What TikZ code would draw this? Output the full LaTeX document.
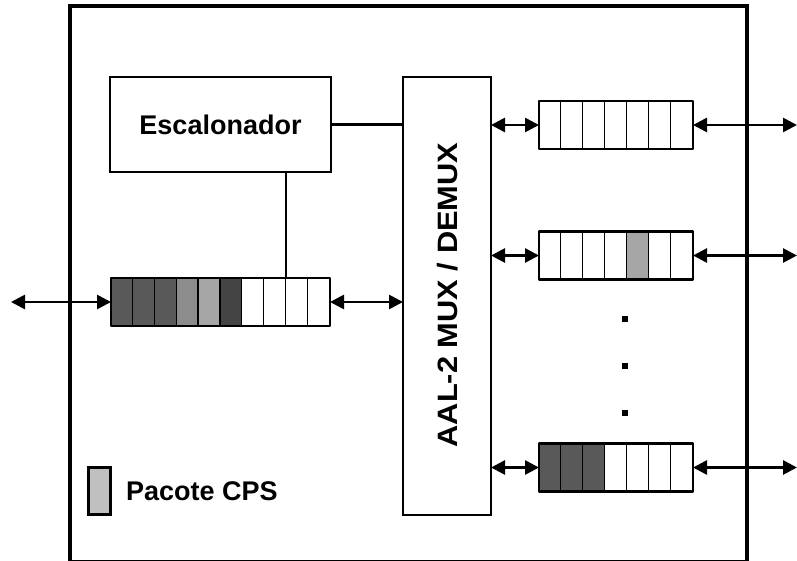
\documentclass[tikz,border=0pt]{standalone}
\usepackage{fontspec}
\setmainfont{Liberation Sans}
\usetikzlibrary{arrows.meta,calc}

\definecolor{celldark}{HTML}{595959}
\definecolor{cellmid}{HTML}{8C8C8C}
\definecolor{celllight}{HTML}{A6A6A6}
\definecolor{celldeep}{HTML}{444444}
\definecolor{legendgray}{HTML}{C0C0C0}

\tikzset{
  block/.style={draw, line width=2.7pt, rectangle, inner sep=0pt, outer sep=0pt},
  queue/.style={rectangle, inner sep=0pt, outer sep=0pt, minimum height=48, minimum width=#1},
  lbl/.style={font=\fontsize{27}{32}\selectfont\bfseries},
  link/.style={line width=2.7pt, {Triangle[length=14pt,width=14pt]}-{Triangle[length=14pt,width=14pt]}},
  wire/.style={line width=2.5pt},
  dot/.style={fill=black, inner sep=0pt, minimum size=6pt},
}

% Fills the cells of a queue node with the given colours, then draws
% the dividers and the outline.  #1 node, #2 cell count, #3 colours
\newcommand\queuecells[3]{%
  \foreach \c [count=\i] in {#3} {
    \path ($(#1.north west)!{(\i-1)/#2}!(#1.north east)$) coordinate (ca)
          ($(#1.south west)!{\i/#2}!(#1.south east)$) coordinate (cb);
    \fill[\c] (ca) rectangle (cb);
    \ifnum\i<#2 \draw[line width=2.4pt] (cb) -- (cb |- ca); \fi
  }
  \draw[line width=2.9pt, line join=round] (#1.north west) rectangle (#1.south east);
}

\begin{document}
\begin{tikzpicture}[x=1pt, y=-1pt]
  \useasboundingbox (0,0) rectangle (797,561);

  % enclosing frame
  \draw[line width=4pt] (70,6.5) rectangle (747,562);

  % scheduler and multiplexer
  \node[block, lbl, minimum width=221, minimum height=95] (esc) at (220.5,124.5) {Escalonador};
  \node[block, minimum width=88, minimum height=438] (mux) at (447,296) {};
  \node[rotate=90, font=\fontsize{28}{32}\selectfont\bfseries, inner sep=0pt] (muxlbl) at (448,295)
       {\scalebox{1.1}[1]{AAL-2 MUX / DEMUX}};

  % queues
  \node[queue=219] (q1) at (220.5,302) {};
  \node[queue=154] (q2) at (616,125) {};
  \node[queue=154] (q3) at (616,255.5) {};
  \node[queue=154] (q4) at (616,467.5) {};

  \queuecells{q1}{10}{celldark,celldark,celldark,cellmid,celllight,celldeep,white,white,white,white}
  \queuecells{q2}{7}{white,white,white,white,white,white,white}
  \queuecells{q3}{7}{white,white,white,white,celllight,white,white}
  \queuecells{q4}{7}{celldark,celldark,celldark,white,white,white,white}

  % scheduler connections
  \draw[wire] (esc.east) -- (esc.east -| mux.west);
  \coordinate (tap) at ($(q1.north west)!0.8!(q1.north east)$);
  \draw[wire] (tap) -- (tap |- esc.south);

  % free ends of the external links
  \coordinate (inL) at (11,302);
  \coordinate (out2) at (797,125);
  \coordinate (out3) at (797,255.5);
  \coordinate (out4) at (797,467.5);

  % links
  \draw[link] (inL) -- (q1.west);
  \draw[link] (q1.east) -- (q1.east -| mux.west);
  \draw[link] (q2.west -| mux.east) -- (q2.west);
  \draw[link] (q3.west -| mux.east) -- (q3.west);
  \draw[link] (q4.west -| mux.east) -- (q4.west);
  \draw[link] (q2.east) -- (out2);
  \draw[link] (q3.east) -- (out3);
  \draw[link] (q4.east) -- (out4);

  % ellipsis between the queues
  \node[dot] (d1) at (625,319) {};
  \node[dot] (d2) at (625,366) {};
  \node[dot] (d3) at (625,413) {};

  % legend
  \node[draw, line width=2.2pt, fill=legendgray, inner sep=0pt, minimum width=22, minimum height=47] (leg) at (99.5,491) {};
  \node[lbl, anchor=base west, inner sep=0pt] (legtxt) at (126,500) {Pacote CPS};
\end{tikzpicture}
\end{document}
